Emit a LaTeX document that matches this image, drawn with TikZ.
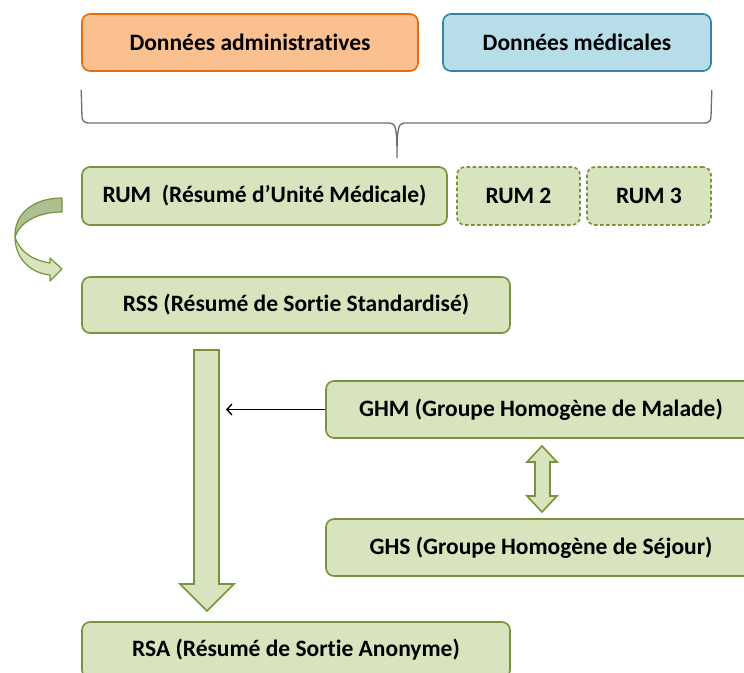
\documentclass[tikz,border=0pt]{standalone}
\usepackage{fontspec}
\setmainfont{Carlito}[Ligatures=NoCommon]
\usetikzlibrary{arrows.meta}
\definecolor{orfill}{HTML}{FAC090}
\definecolor{ordraw}{HTML}{E46C0A}
\definecolor{blfill}{HTML}{B7DEE8}
\definecolor{bldraw}{HTML}{31859C}
\definecolor{grfill}{HTML}{D7E4BD}
\definecolor{grdraw}{HTML}{77933C}
\definecolor{grdark}{HTML}{AEBF93}
\definecolor{bracegray}{HTML}{6E6E6E}
\tikzset{
  x=1pt,y=-1pt,
  box/.style={draw, line width=1.6pt, rounded corners=8pt, inner sep=0pt, font=\fontsize{23.5}{27}\selectfont\bfseries},
  grbox/.style={box, draw=grdraw, fill=grfill},
  dashbox/.style={grbox, dash pattern=on 3.5pt off 2.5pt},
  fatarrow/.style={draw=grdraw, fill=grfill, line width=1.6pt, line join=miter},
}
\begin{document}
\begin{tikzpicture}
\useasboundingbox (0,0) rectangle (744,672);
% top boxes
\node[box, draw=ordraw, fill=orfill, minimum width=336pt, minimum height=57pt] (adm) at (250,42.5) {Données administratives};
\node[box, draw=bldraw, fill=blfill, minimum width=268pt, minimum height=57pt] (med) at (577,42.5) {Données médicales};
% brace
\draw[bracegray, line width=1.3pt] (adm.south west |- 0,90) -- (82,117) arc[start angle=180, end angle=90, radius=6] -- (390,123)
  .. controls (396,123) and (397,130) .. (397,158)
  .. controls (397,130) and (398,123) .. (404,123) -- (705,123)
  arc[start angle=90, end angle=0, radius=6] -- (med.south east |- 0,90);
\coordinate (tip) at (397,158);
% RUM row
\node[grbox, minimum width=365pt, minimum height=58pt] (rum) at (264.5,196) {RUM\ \ (Résumé d’Unité Médicale)};
\node[dashbox, minimum width=123pt, minimum height=58pt] (rum2) at (518.5,196) {RUM 2};
\node[dashbox, minimum width=124pt, minimum height=58pt] (rum3) at (649,196) {RUM 3};
% curved arrow
\fill[grdark, draw=grdraw, line width=1.2pt, line join=round] (62,198) .. controls (32,198) and (14,215) .. (15,237)
  .. controls (20,222) and (38,212) .. (62,212) -- cycle;
\fill[grfill, draw=grdraw, line width=1.2pt, line join=round] (15,237) .. controls (15,258) and (30,273) .. (50,275)
  -- (50,281) -- (62,269) -- (50,258) -- (50,263) .. controls (32,260) and (20,252) .. (15,237) -- cycle;
% RSS
\node[grbox, minimum width=428pt, minimum height=56pt] (rss) at (296,305) {RSS (Résumé de Sortie Standardisé)};
% big down arrow
\coordinate (bigtop) at (206.5,350);
\draw[fatarrow] (194,350) -- (219,350) -- (219,584) -- (234,584) -- (207,611) -- (180,584) -- (194,584) -- cycle;
% GHM, GHS
\node[grbox, minimum width=440pt, minimum height=57pt] (ghm) at (546,409.5) {\hspace*{-10pt}GHM (Groupe Homogène de Malade)};
\node[grbox, minimum width=440pt, minimum height=57pt] (ghs) at (546,547.5) {\hspace*{-10pt}GHS (Groupe Homogène de Séjour)};
\draw[-{Straight Barb[length=5pt,width=11pt]}, line width=1.4pt] (ghm.west) -- (226,409.5);
% double arrow
\draw[fatarrow] (542,446) -- (557,462) -- (550,462) -- (550,496) -- (557,496) -- (542,512) -- (527,496) -- (535,496) -- (535,462) -- (527,462) -- cycle;
% RSA
\node[grbox, minimum width=428pt, minimum height=56pt] (rsa) at (296,650) {\raisebox{3pt}{RSA (Résumé de Sortie Anonyme)}};
\end{tikzpicture}
\end{document}
